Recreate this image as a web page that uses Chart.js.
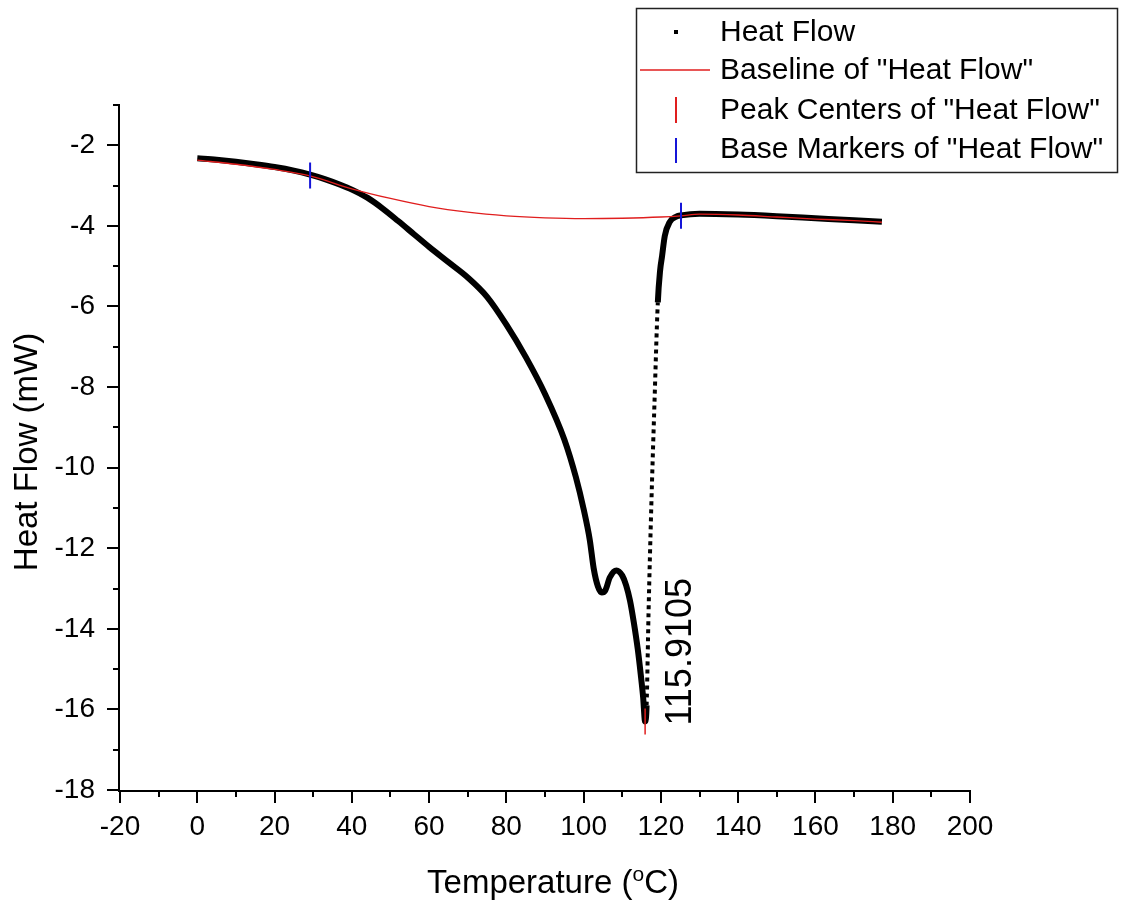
<!DOCTYPE html>
<html lang="en">
<head>
  <meta charset="UTF-8" />
  <title>Heat Flow</title>
  <script src="https://cdn.jsdelivr.net/npm/chart.js"></script>
  <style>
    html, body { margin: 0; padding: 0; background: #fff; }
  </style>
</head>
<body>
  <canvas id="dscChart" width="1142" height="907"></canvas>

  <script>
    // Heat flow curve (temperature in degC, heat flow in mW)
    const temperature = [0, 5, 10, 15, 20, 25, 29.2, 33, 37, 40, 44, 48, 52, 56, 60, 65, 70, 75, 80,
      85, 90, 95, 98, 100, 101.6, 102.6, 103.7, 104.7, 105.6, 106.8, 108.5, 110, 111, 112, 113, 114,
      114.8, 115.4, 115.91, 116.3, 116.8, 117.5, 118.3, 119.2, 119.8, 120.3, 121, 122.3, 124, 125.2,
      130, 140, 150, 160, 170, 177.2];
    const heatFlow = [-2.32, -2.36, -2.41, -2.47, -2.54, -2.63, -2.73, -2.84, -2.98, -3.10, -3.30, -3.57,
      -3.88, -4.20, -4.52, -4.90, -5.28, -5.76, -6.45, -7.25, -8.17, -9.30, -10.24, -11.03, -11.80,
      -12.50, -12.95, -13.10, -13.05, -12.72, -12.55, -12.68, -12.92, -13.30, -13.85, -14.50, -15.15,
      -15.70, -16.30, -15.90, -13.60, -11.00, -8.50, -5.90, -5.10, -4.75, -4.25, -3.90, -3.77, -3.74,
      -3.70, -3.72, -3.76, -3.81, -3.86, -3.90];

    // Baseline of "Heat Flow"
    const baselineTemp = [0, 10, 20, 29.2, 40, 50, 60, 70, 80, 90, 100, 110, 120, 125.2, 130, 140, 150, 160, 170, 177.2];
    const baselineFlow = [-2.37, -2.47, -2.60, -2.76, -3.08, -3.32, -3.52, -3.66, -3.75, -3.80, -3.82, -3.81,
      -3.78, -3.75, -3.71, -3.73, -3.78, -3.83, -3.87, -3.91];

    // Markers
    const peakCenterTemp = [115.9105];
    const peakCenterFlow = [-16.3];
    const baseMarkerTemp = [29.2, 125.2];
    const baseMarkerFlow = [-2.75, -3.75];

    // Ticks
    const xMajorTicks = [-20, 0, 20, 40, 60, 80, 100, 120, 140, 160, 180, 200];
    const xMinorTicks = [-10, 10, 30, 50, 70, 90, 110, 130, 150, 170, 190];
    const yMajorTicks = [-18, -16, -14, -12, -10, -8, -6, -4, -2];
    const yMinorTicks = [-17, -15, -13, -11, -9, -7, -5, -3, -1];

    const FONT = '"Liberation Sans", Arial, sans-serif';
    const RED = '#e01e1e';
    const BLUE = '#1515d8';

    const toPoints = (xs, ys) => xs.map((x, i) => ({ x: x, y: ys[i] }));

    // Steep rising side of the peak is drawn as sparse dots in the original
    const isSparse = ctx => ctx.p0.parsed.x >= 116.3 && ctx.p1.parsed.x <= 119.2;

    const decorPlugin = {
      id: 'decor',
      afterDraw(chart) {
        const ctx = chart.ctx;
        const xs = chart.scales.x;
        const ys = chart.scales.y;
        const area = chart.chartArea;
        ctx.save();

        // axis lines
        ctx.strokeStyle = '#000';
        ctx.lineWidth = 2;
        ctx.beginPath();
        ctx.moveTo(area.left - 1, area.top);
        ctx.lineTo(area.left - 1, area.bottom + 1);
        ctx.lineTo(area.right, area.bottom + 1);
        ctx.stroke();

        // tick marks
        ctx.beginPath();
        xMajorTicks.concat(xMinorTicks).forEach(v => {
          const px = Math.round(xs.getPixelForValue(v));
          const len = xMajorTicks.includes(v) ? 13 : 7;
          ctx.moveTo(px, area.bottom);
          ctx.lineTo(px, area.bottom + len);
        });
        yMajorTicks.concat(yMinorTicks).forEach(v => {
          const py = Math.round(ys.getPixelForValue(v));
          const len = yMajorTicks.includes(v) ? 13 : 7;
          ctx.moveTo(area.left, py);
          ctx.lineTo(area.left - len, py);
        });
        ctx.stroke();

        ctx.fillStyle = '#000';

        // x title with superscript o
        const big = '33px ' + FONT;
        const small = '21px ' + FONT;
        ctx.font = big;
        const w1 = ctx.measureText('Temperature (').width;
        const w3 = ctx.measureText('C)').width;
        ctx.font = small;
        const w2 = ctx.measureText('o').width;
        let tx = 553 - (w1 + w2 + w3) / 2;
        const tBase = 893;
        ctx.textBaseline = 'alphabetic';
        ctx.textAlign = 'left';
        ctx.font = big;
        ctx.fillText('Temperature (', tx, tBase);
        tx += w1;
        ctx.font = small;
        ctx.fillText('o', tx, tBase - 12);
        tx += w2;
        ctx.font = big;
        ctx.fillText('C)', tx, tBase);

        // y title
        ctx.save();
        ctx.translate(37, 452);
        ctx.rotate(-Math.PI / 2);
        ctx.textAlign = 'center';
        ctx.font = big;
        ctx.fillText('Heat Flow (mW)', 0, 0);
        ctx.restore();

        // peak label
        ctx.save();
        ctx.translate(xs.getPixelForValue(peakCenterTemp[0]) + 36, ys.getPixelForValue(peakCenterFlow[0]) + 4);
        ctx.rotate(-Math.PI / 2);
        ctx.textAlign = 'left';
        ctx.textBaseline = 'middle';
        ctx.font = '36px ' + FONT;
        ctx.fillText(peakCenterTemp[0].toFixed(4), 0, 0);
        ctx.restore();

        // legend box
        ctx.lineWidth = 1.5;
        ctx.strokeStyle = '#222';
        ctx.strokeRect(636.5, 8.5, 481, 164);
        ctx.font = '30px ' + FONT;
        ctx.textAlign = 'left';
        ctx.textBaseline = 'middle';
        const rows = [33, 71, 111, 150];
        const labels = ['Heat Flow', 'Baseline of "Heat Flow"', 'Peak Centers of "Heat Flow"', 'Base Markers of "Heat Flow"'];
        labels.forEach((t, i) => ctx.fillText(t, 720, rows[i]));
        ctx.fillRect(674, 30, 4, 4);
        ctx.lineWidth = 1.3;
        ctx.strokeStyle = RED;
        ctx.beginPath();
        ctx.moveTo(640, 70);
        ctx.lineTo(710, 70);
        ctx.stroke();
        ctx.lineWidth = 2;
        ctx.beginPath();
        ctx.moveTo(676, 97);
        ctx.lineTo(676, 123);
        ctx.stroke();
        ctx.strokeStyle = BLUE;
        ctx.beginPath();
        ctx.moveTo(676, 138);
        ctx.lineTo(676, 163);
        ctx.stroke();

        ctx.restore();
      }
    };

    new Chart(document.getElementById('dscChart'), {
      type: 'scatter',
      data: {
        datasets: [
          {
            label: 'Base Markers of "Heat Flow"',
            data: toPoints(baseMarkerTemp, baseMarkerFlow),
            pointStyle: 'line',
            rotation: 90,
            radius: 13,
            borderWidth: 2,
            borderColor: BLUE,
            order: 0
          },
          {
            label: 'Peak Centers of "Heat Flow"',
            data: toPoints(peakCenterTemp, peakCenterFlow),
            pointStyle: 'line',
            rotation: 90,
            radius: 13,
            borderWidth: 1.5,
            borderColor: RED,
            order: 0
          },
          {
            label: 'Baseline of "Heat Flow"',
            data: toPoints(baselineTemp, baselineFlow),
            showLine: true,
            borderColor: RED,
            borderWidth: 1.3,
            pointRadius: 0,
            cubicInterpolationMode: 'monotone',
            order: 1
          },
          {
            label: 'Heat Flow',
            data: toPoints(temperature, heatFlow),
            showLine: true,
            borderColor: '#000',
            borderWidth: 6,
            pointRadius: 0,
            cubicInterpolationMode: 'monotone',
            segment: {
              borderDash: ctx => isSparse(ctx) ? [4, 4] : undefined,
              borderWidth: ctx => isSparse(ctx) ? 4 : undefined
            },
            order: 2
          }
        ]
      },
      options: {
        responsive: false,
        animation: false,
        devicePixelRatio: 1,
        layout: { padding: { top: 105, right: 172, left: 0, bottom: 0 } },
        plugins: {
          legend: { display: false },
          tooltip: { enabled: false }
        },
        scales: {
          x: {
            type: 'linear',
            min: -20,
            max: 200,
            afterBuildTicks: s => { s.ticks = xMajorTicks.map(v => ({ value: v })); },
            afterFit: s => { s.height = 117; },
            ticks: { color: '#000', font: { size: 28, family: FONT }, padding: 20, maxRotation: 0, autoSkip: false },
            grid: { display: false, drawTicks: false },
            border: { display: false }
          },
          y: {
            type: 'linear',
            min: -18,
            max: -1,
            afterBuildTicks: s => { s.ticks = yMajorTicks.map(v => ({ value: v })); },
            afterFit: s => { s.width = 120; },
            ticks: { color: '#000', font: { size: 28, family: FONT }, padding: 25, autoSkip: false },
            grid: { display: false, drawTicks: false },
            border: { display: false }
          }
        }
      },
      plugins: [decorPlugin]
    });
  </script>
</body>
</html>
